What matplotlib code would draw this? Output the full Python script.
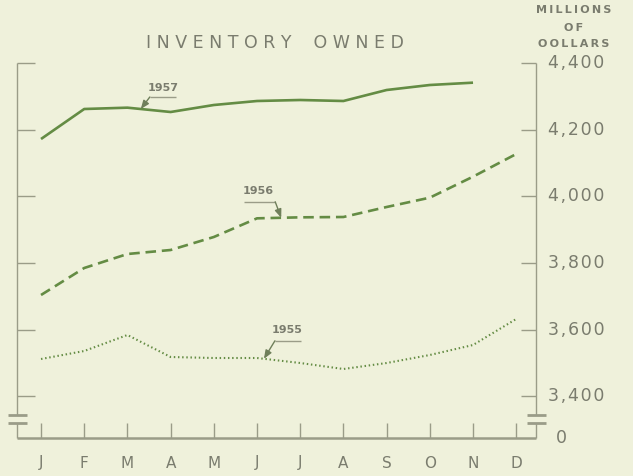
import numpy as np
import matplotlib
matplotlib.use("Agg")
import matplotlib.pyplot as plt

# data (millions of dollars)
months = ["J", "F", "M", "A", "M", "J", "J", "A", "S", "O", "N", "D"]
inv_1957 = [4172, 4262, 4266, 4253, 4274, 4286, 4289, 4286, 4319, 4334, 4341]
inv_1956 = [3704, 3785, 3827, 3839, 3878, 3934, 3937, 3938, 3968, 3996, 4059, 4127]
inv_1955 = [3512, 3536, 3584, 3518, 3515, 3515, 3500, 3482, 3500, 3524, 3554, 3632]
ytick_vals = [3400, 3600, 3800, 4000, 4200, 4400]
ytick_labels = ["3,400", "3,600", "3,800", "4,000", "4,200", "4,400"]

# style
BG = "#eff1db"
LINE = "#648c44"
AXC = "#9a9c88"
TXT = "#7a7c6e"
W, H = 633, 476
SP = "\u2009"    # thin space
HS = "\u200a"    # hair space

fig = plt.figure(figsize=(W / 100, H / 100), dpi=100, facecolor=BG)
left_px, right_px, top_px, bot_px = 17, 536, 63, 438
ax = fig.add_axes([left_px / W, 1 - bot_px / H, (right_px - left_px) / W, (bot_px - top_px) / H])
ax.set_facecolor(BG)
ax.axis("off")

x0, x1 = -0.556, 11.458
y_top, y_base = 4400, 3275
ax.set_xlim(x0, x1)
ax.set_ylim(y_base, y_top)
px_x = (x1 - x0) / (right_px - left_px)   # data units per pixel
px_y = (y_top - y_base) / (bot_px - top_px)

kw = dict(clip_on=False, solid_capstyle="butt")

# series
x = np.arange(12)
ax.plot(x[:len(inv_1957)], inv_1957, color=LINE, lw=1.9, **kw)
ax.plot(x, inv_1956, color=LINE, lw=1.9, dashes=(4.0, 2.2), **kw)
ax.plot(x, inv_1955, color=LINE, lw=1.5, dashes=(0.7, 1.3), **kw)

# axes frame with breaks
brk_hi, brk_lo = 3344, 3320
for xe, sgn in [(x0, 1), (x1, -1)]:
    ax.plot([xe, xe], [y_top, brk_hi], color=AXC, lw=1.0, **kw)
    ax.plot([xe, xe], [brk_lo, y_base], color=AXC, lw=1.0, **kw)
    for yb in (brk_hi, brk_lo):
        ax.plot([xe - 9 * px_x, xe + 10 * px_x], [yb, yb], color=AXC, lw=2.0, **kw)
    tl = (18 if sgn > 0 else 15) * px_x
    for v in ytick_vals:
        ax.plot([xe, xe + sgn * tl], [v, v], color=AXC, lw=1.0, **kw)
ax.plot([x0, x1], [y_base, y_base], color=AXC, lw=1.8, **kw)
for i in x:
    ax.plot([i, i], [y_base, y_base + 15 * px_y], color=AXC, lw=1.0, **kw)

# labels
for i, m in enumerate(months):
    ax.text(i, y_base - 25 * px_y, m, ha="center", va="center", color=TXT, fontsize=11)
for v, lab in zip(ytick_vals, ytick_labels):
    ax.text(x1 + 12 * px_x, v, HS.join(lab), ha="left", va="center", color=TXT, fontsize=12.5)
ax.text(x1 + 20 * px_x, y_base, "0", ha="left", va="center", color=TXT, fontsize=12.5)
for yy, s in [(10, "MILLIONS"), (28, "OF"), (44, "OOLLARS")]:
    fig.text(574 / W, 1 - yy / H, SP.join(s), ha="center", va="center", color=TXT,
             fontsize=8, fontweight="bold")
fig.text(275 / W, 1 - 43 / H, "I N V E N T O R Y    O W N E D", ha="center", va="center",
         color=TXT, fontsize=12.5)


# year callouts: tip on the line, knee/end/text as pixel offsets (positive = up/right)
def callout(series, xi, label, knee, end, txt):
    yi = np.interp(xi, x[:len(series)], series)
    kx, ky = xi + knee[0] * px_x, yi + knee[1] * px_y
    ex, ey = xi + end[0] * px_x, yi + end[1] * px_y
    ax.plot([kx, ex], [ky, ey], color=AXC, lw=1.0, **kw)
    ax.annotate("", xy=(xi, yi), xytext=(kx, ky),
                arrowprops=dict(arrowstyle="-|>,head_length=0.5,head_width=0.2", color="#6f7f5a", lw=1.0,
                                shrinkA=0, shrinkB=0))
    ax.text(xi + txt[0] * px_x, yi + txt[1] * px_y, label, ha="center", va="center",
            color=TXT, fontsize=8, fontweight="bold")


callout(inv_1957, 2.31, "1957", (9, 12), (35, 12), (22, 21))
callout(inv_1956, 5.56, "1956", (-6, 16), (-37, 16), (-23, 27))
callout(inv_1955, 5.16, "1955", (11, 18), (37, 18), (23, 29))

fig.savefig("out.png", dpi=100, facecolor=BG)
